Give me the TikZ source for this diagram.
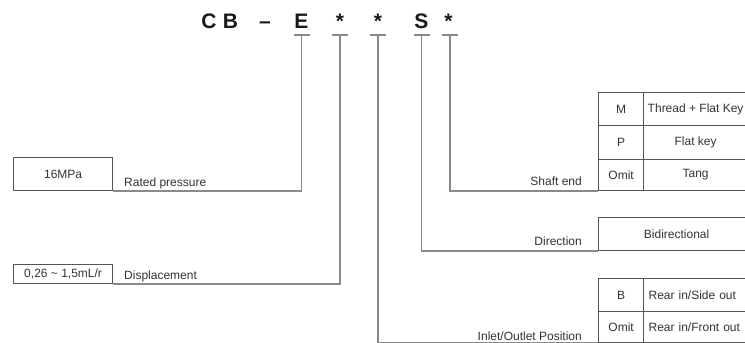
\documentclass[tikz,border=0pt]{standalone}
\usepackage{fontspec}
\setmainfont{Liberation Sans}
\definecolor{txt}{HTML}{333333}
\definecolor{leadc}{HTML}{8A8A8A}
\definecolor{boxc}{HTML}{555555}
\begin{document}
\begin{tikzpicture}[x=1pt,y=-1pt,
  lbl/.style={font=\fontsize{12}{14}\selectfont, text=txt, inner sep=0pt},
  ttl/.style={font=\fontsize{21}{24}\selectfont\bfseries, text=black!90, inner sep=0pt, anchor=base},
  lead/.style={draw=leadc, line width=1.5pt},
  box/.style={draw=boxc, line width=1.2pt, font=\fontsize{12}{14}\selectfont, text=txt, inner sep=0pt, anchor=north west},
  cellA/.style={box, minimum width=45pt},
  cellB/.style={box, minimum width=104pt},
  cellL/.style={box, text width=150pt, inner xsep=5pt, align=left},
]
\useasboundingbox (0,0) rectangle (745,343);
\clip (0,0) rectangle (745,343);
\fill[white] (0,0) rectangle (745,343);

% title
\node[ttl] (tC) at (209,28) {C};
\node[ttl] (tB) at (230.5,28) {B};
\node[ttl] (tD) at (265,28) {\textendash};
\node[ttl] (tE) at (301.5,28) {E};
\node[ttl] (t1) at (340,28) {*};
\node[ttl] (t2) at (378,28) {*};
\node[ttl] (tS) at (421.5,28) {S};
\node[ttl] (t3) at (448.5,28) {*};

% ticks
\coordinate (kE) at (301.5,35);
\coordinate (k1) at (340,35);
\coordinate (k2) at (378,35);
\coordinate (kS) at (421.5,35);
\coordinate (k3) at (450,35);
\foreach \k in {kE,k1,k2,kS,k3}
  \draw[lead] ([xshift=-8pt]\k) -- ([xshift=8pt]\k);

% left boxes
\node[box, minimum width=99pt, minimum height=33pt] (b1) at (13,157) {\raisebox{-2pt}{16MPa}};
\node[box, minimum width=99pt, minimum height=19pt] (b2) at (13,264) {\raisebox{-1.5pt}{0,26 \textasciitilde{} 1,5mL/r}};
\node[lbl, anchor=base west] (lrp) at (124,186) {Rated pressure};
\node[lbl, anchor=base west] (ldp) at (124,279) {Displacement};

% shaft end table
\node[cellA, minimum height=33pt] (sM) at (598,92) {M};
\node[cellB, minimum height=33pt] (sMt) at (643,92) {Thread + Flat Key};
\node[cellA, minimum height=34pt] (sP) at (598,125) {P};
\node[cellB, minimum height=34pt] (sPt) at (643,125) {Flat key};
\node[cellA, minimum height=31pt] (sO) at (598,159) {Omit};
\node[cellB, minimum height=31pt] (sOt) at (643,159) {Tang};
\node[lbl, anchor=base east] (lsh) at (582,185) {Shaft end};

% direction
\node[box, minimum width=156pt, minimum height=33pt] (dir) at (598,217) {Bidirectional};
\node[lbl, anchor=base east] (ldir) at (582,245) {Direction};

% inlet/outlet table
\node[cellA, minimum height=33pt] (iB) at (598,278) {B};
\node[cellL, minimum height=33pt] (iBt) at (643,278) {Rear in/Side out};
\node[cellA, minimum height=31pt] (iO) at (598,311) {Omit};
\node[cellL, minimum height=31pt] (iOt) at (643,311) {Rear in/Front out};
\node[lbl, anchor=base east] (lio) at (582,340) {Inlet/Outlet Position};

% leads
\draw[lead] (kE) |- (b1.south east);
\draw[lead] (k1) |- (b2.south east);
\draw[lead] (k2) |- (iO.south west);
\draw[lead] (kS) |- (dir.south west);
\draw[lead] (k3) |- (sO.south west);
\end{tikzpicture}
\end{document}
